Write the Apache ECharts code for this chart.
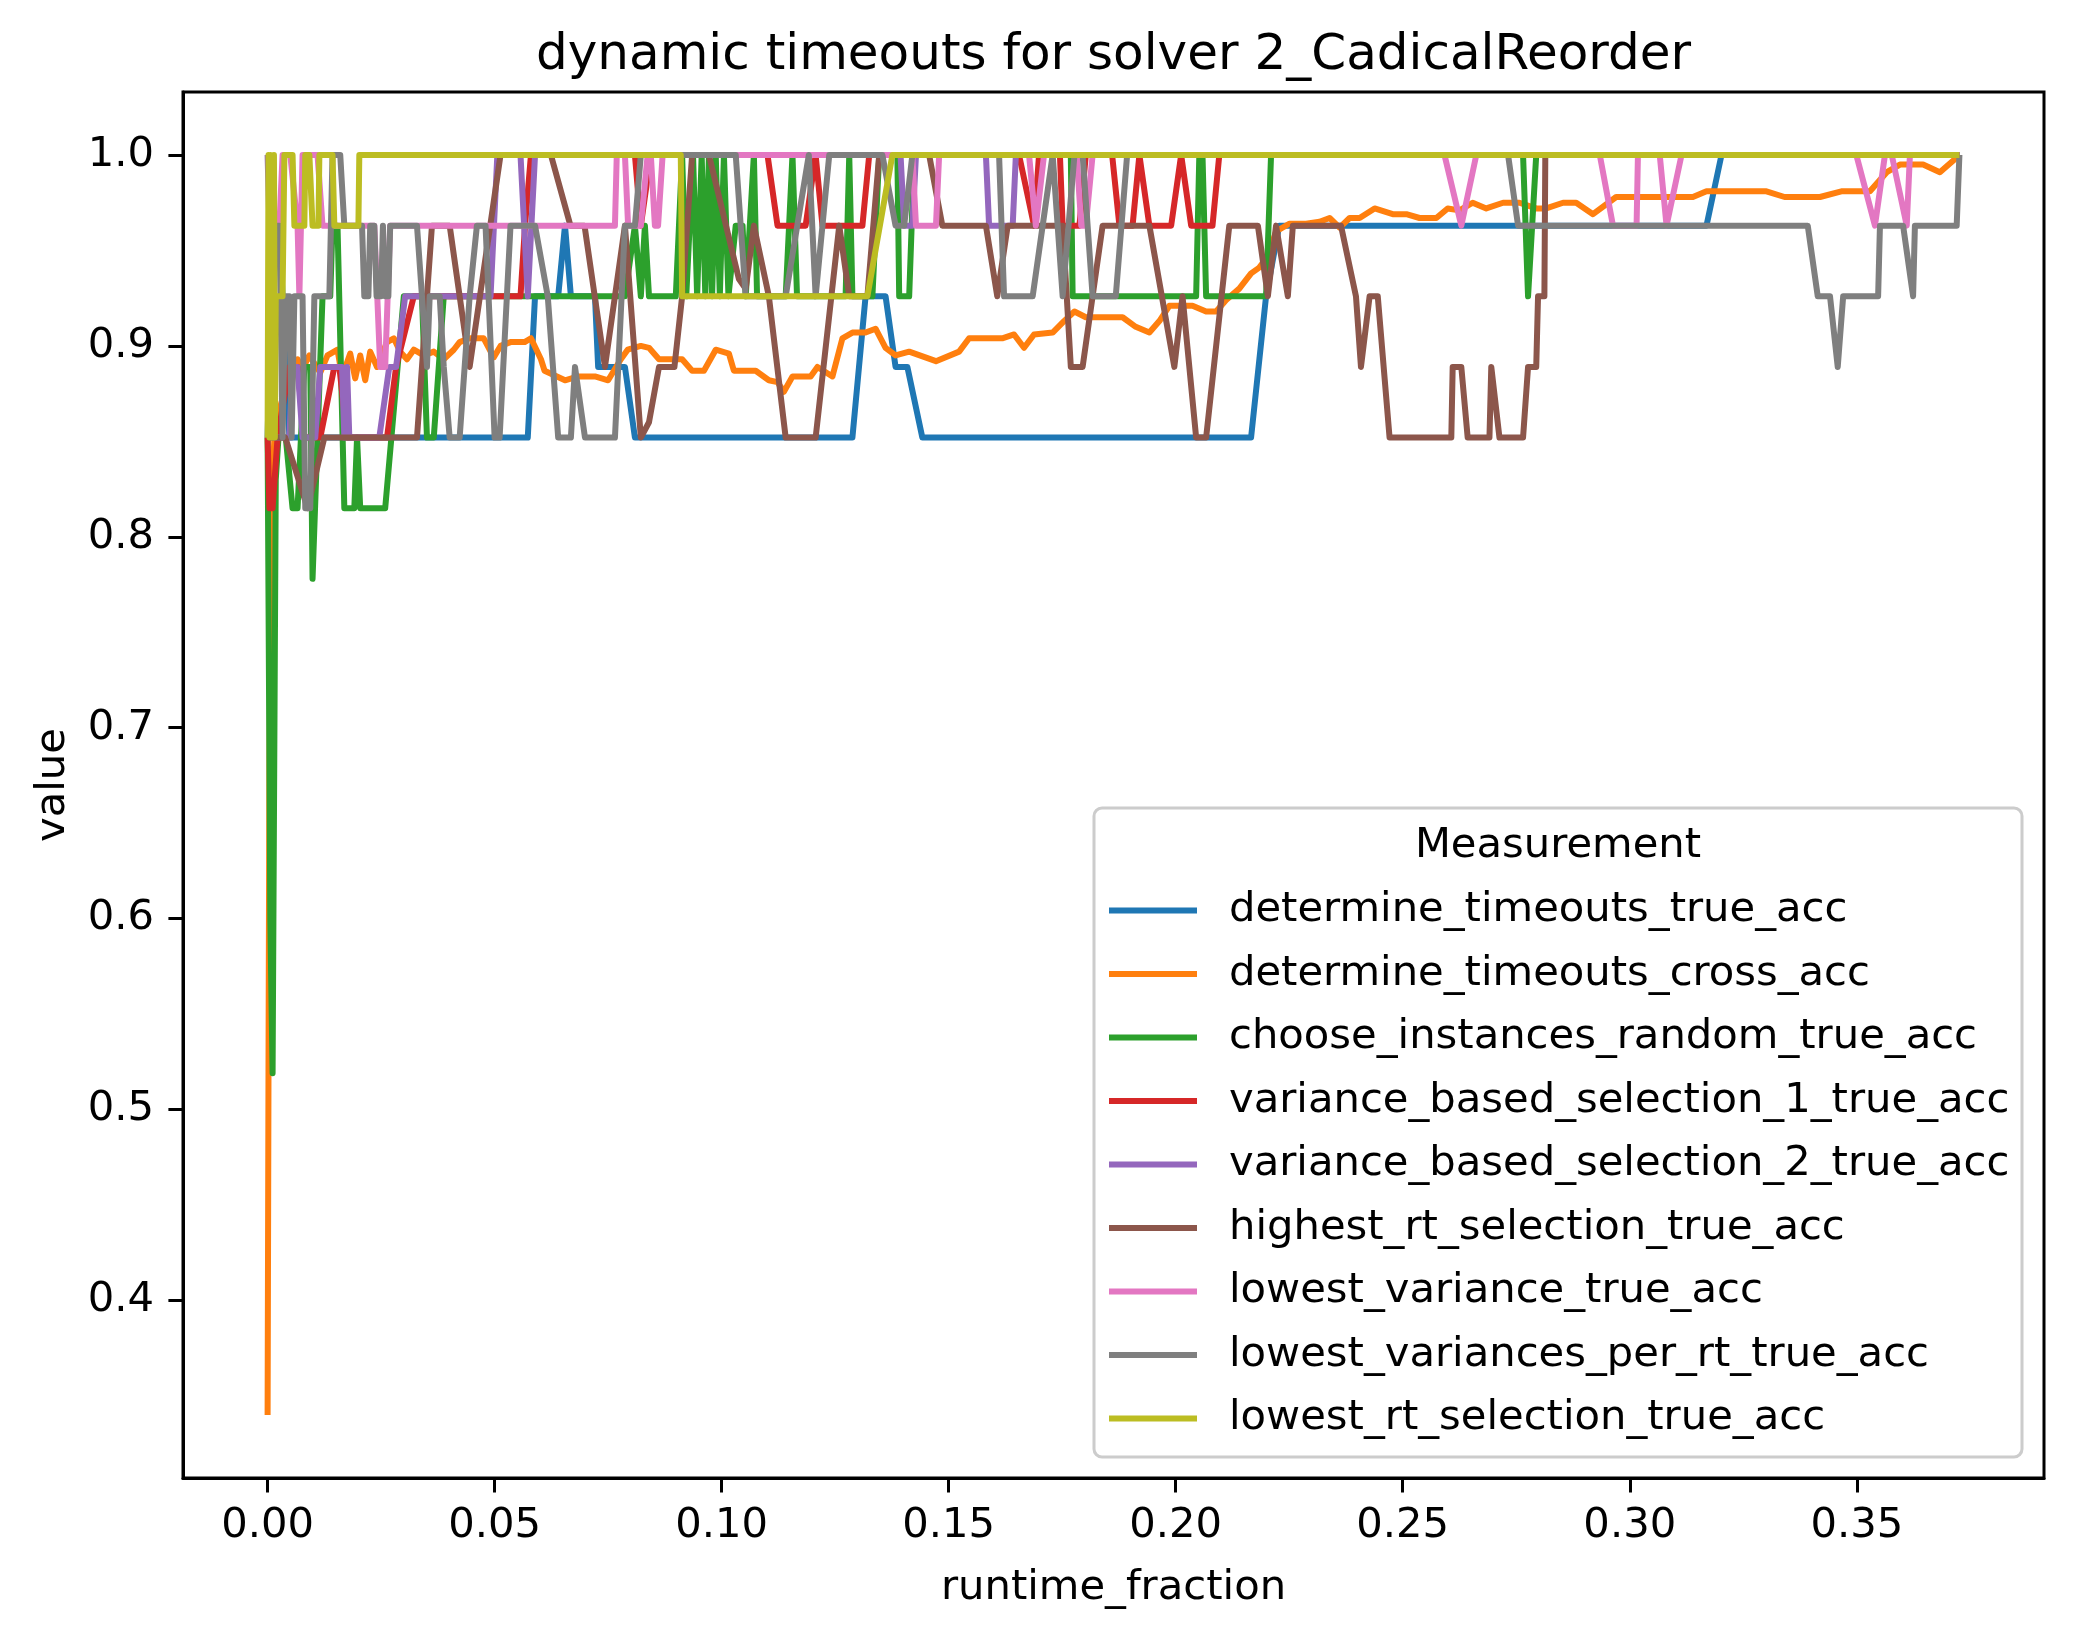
<!DOCTYPE html>
<html><head><meta charset="utf-8">
<script src="https://cdn.jsdelivr.net/npm/echarts@6/dist/echarts.min.js"></script>
<style>html,body{margin:0;padding:0;background:#fff}#c{width:2074px;height:1639px}</style>
</head><body><div id="c"></div>
<script>
const chartTitle = 'dynamic timeouts for solver 2_CadicalReorder';
const xName = 'runtime_fraction';
const yName = 'value';
const legendTitle = 'Measurement';
const runtimeTicks = [0, 0.05, 0.1, 0.15, 0.2, 0.25, 0.3, 0.35];
const valueTicks = [0.4, 0.5, 0.6, 0.7, 0.8, 0.9, 1.0];
const seriesNames = ['determine_timeouts_true_acc','determine_timeouts_cross_acc','choose_instances_random_true_acc','variance_based_selection_1_true_acc','variance_based_selection_2_true_acc','highest_rt_selection_true_acc','lowest_variance_true_acc','lowest_variances_per_rt_true_acc','lowest_rt_selection_true_acc'];
const colors = ['#1f77b4','#ff7f0e','#2ca02c','#d62728','#9467bd','#8c564b','#e377c2','#7f7f7f','#bcbd22'];

const determine_timeouts_true_acc = [[0,0.852],[0.0011,0.963],[0.0026,0.963],[0.0033,0.926],[0.0048,0.852],[0.0573,0.852],[0.0589,0.926],[0.0640,0.926],[0.0655,0.963],[0.0668,0.926],[0.0721,0.926],[0.0728,0.889],[0.0787,0.889],[0.0809,0.852],[0.1288,0.852],[0.1317,0.926],[0.1361,0.926],[0.1383,0.889],[0.1409,0.889],[0.1442,0.852],[0.2166,0.852],[0.2199,0.926],[0.2228,0.963],[0.3169,0.963],[0.3202,1.0],[0.3726,1.0]];

const determine_timeouts_cross_acc = [[0,0.34],[0.0002,0.52],[0.0004,0.68],[0.0008,0.815],[0.0015,0.852],[0.003,0.87],[0.005,0.885],[0.0066,0.893],[0.0077,0.888],[0.0092,0.895],[0.0116,0.886],[0.0132,0.895],[0.0154,0.898],[0.0164,0.884],[0.0182,0.896],[0.0193,0.883],[0.0204,0.895],[0.0215,0.882],[0.0226,0.897],[0.0241,0.889],[0.0263,0.902],[0.0278,0.904],[0.0292,0.897],[0.0307,0.893],[0.0322,0.898],[0.0344,0.895],[0.0366,0.897],[0.0388,0.893],[0.0410,0.898],[0.0423,0.902],[0.0445,0.904],[0.0476,0.904],[0.0498,0.894],[0.0513,0.900],[0.0535,0.902],[0.0566,0.902],[0.0580,0.904],[0.0602,0.893],[0.0610,0.887],[0.0655,0.882],[0.0684,0.884],[0.0721,0.884],[0.0750,0.882],[0.0778,0.893],[0.0793,0.898],[0.0822,0.900],[0.0840,0.899],[0.0862,0.893],[0.0913,0.893],[0.0935,0.887],[0.0961,0.887],[0.0987,0.898],[0.1016,0.896],[0.1027,0.887],[0.1075,0.887],[0.1104,0.882],[0.1123,0.881],[0.1137,0.876],[0.1156,0.884],[0.1196,0.884],[0.1211,0.889],[0.1244,0.884],[0.1266,0.904],[0.1288,0.907],[0.1317,0.907],[0.1339,0.909],[0.1361,0.899],[0.1383,0.895],[0.1413,0.897],[0.1472,0.892],[0.1523,0.897],[0.1545,0.904],[0.1618,0.904],[0.1644,0.906],[0.1666,0.899],[0.1688,0.906],[0.1729,0.907],[0.1754,0.913],[0.1777,0.918],[0.1802,0.915],[0.1883,0.915],[0.1912,0.910],[0.1942,0.907],[0.1964,0.913],[0.1986,0.921],[0.2037,0.921],[0.2067,0.918],[0.2089,0.918],[0.2111,0.924],[0.2140,0.930],[0.2166,0.938],[0.2184,0.941],[0.2203,0.947],[0.2221,0.960],[0.2250,0.964],[0.2287,0.964],[0.2317,0.965],[0.2339,0.967],[0.2361,0.962],[0.2383,0.967],[0.2405,0.967],[0.2438,0.972],[0.2478,0.969],[0.2508,0.969],[0.2537,0.967],[0.2574,0.967],[0.2599,0.972],[0.2625,0.971],[0.2654,0.975],[0.2684,0.972],[0.2721,0.975],[0.2757,0.975],[0.2794,0.972],[0.2816,0.972],[0.2853,0.975],[0.2882,0.975],[0.2919,0.969],[0.2970,0.978],[0.3139,0.978],[0.3169,0.981],[0.3301,0.981],[0.3341,0.978],[0.3419,0.978],[0.3466,0.981],[0.3529,0.981],[0.3566,0.991],[0.3595,0.995],[0.3646,0.995],[0.3683,0.991],[0.3712,0.997],[0.3726,1.0]];

const choose_instances_random_true_acc = [[0,0.852],[0.0006,0.6],[0.0011,0.519],[0.0018,0.83],[0.0024,0.852],[0.0040,0.852],[0.0055,0.815],[0.0066,0.815],[0.0081,0.889],[0.0094,0.889],[0.0099,0.778],[0.0110,0.852],[0.0121,0.926],[0.0138,0.926],[0.0143,0.963],[0.0154,0.963],[0.0169,0.815],[0.0191,0.815],[0.0197,0.852],[0.0204,0.815],[0.0259,0.815],[0.0300,0.926],[0.0340,0.926],[0.0351,0.852],[0.0366,0.852],[0.0388,0.926],[0.0787,0.926],[0.0809,0.963],[0.0822,0.926],[0.0831,0.963],[0.0840,0.926],[0.0899,0.926],[0.0913,1.0],[0.0922,0.926],[0.0937,1.0],[0.0946,0.926],[0.0956,1.0],[0.0964,0.926],[0.0972,1.0],[0.0979,0.926],[0.0987,1.0],[0.0996,0.926],[0.1005,1.0],[0.1015,0.926],[0.1031,0.963],[0.1046,0.963],[0.1053,0.926],[0.1071,1.0],[0.1078,0.926],[0.1141,0.926],[0.1156,1.0],[0.1166,0.926],[0.1273,0.926],[0.1281,1.0],[0.1288,0.926],[0.1332,0.926],[0.1347,1.0],[0.1387,1.0],[0.1391,0.926],[0.1413,0.926],[0.1424,1.0],[0.1769,1.0],[0.1773,0.926],[0.2045,0.926],[0.2052,1.0],[0.2059,1.0],[0.2067,0.926],[0.2199,0.926],[0.2210,1.0],[0.2765,1.0],[0.2776,0.926],[0.2794,1.0],[0.3726,1.0]];

const variance_based_selection_1_true_acc = [[0,0.852],[0.0004,0.815],[0.0011,0.815],[0.0022,0.852],[0.0048,0.889],[0.0066,0.889],[0.0081,0.852],[0.0116,0.852],[0.0147,0.889],[0.0158,0.889],[0.0175,0.852],[0.0263,0.852],[0.0283,0.889],[0.0322,0.926],[0.0557,0.926],[0.0567,0.963],[0.0580,1.0],[0.0809,1.0],[0.0822,0.963],[0.0844,1.0],[0.1101,1.0],[0.1123,0.963],[0.1185,0.963],[0.1207,1.0],[0.1222,0.963],[0.1310,0.963],[0.1325,1.0],[0.1655,1.0],[0.1688,0.963],[0.1699,1.0],[0.1745,1.0],[0.1751,0.963],[0.1788,0.963],[0.1802,1.0],[0.1860,1.0],[0.1876,0.963],[0.1905,0.963],[0.1920,1.0],[0.1942,0.963],[0.1990,0.963],[0.2012,1.0],[0.2034,0.963],[0.2081,0.963],[0.2096,1.0],[0.3726,1.0]];

const variance_based_selection_2_true_acc = [[0,1.0],[0.0004,0.963],[0.0011,0.852],[0.0048,0.852],[0.0055,0.889],[0.0066,0.889],[0.0077,0.852],[0.0105,0.852],[0.0116,0.889],[0.0164,0.889],[0.0169,0.852],[0.0175,0.889],[0.0180,0.852],[0.0246,0.852],[0.0268,0.889],[0.0283,0.889],[0.0303,0.926],[0.0491,0.926],[0.0506,1.0],[0.0557,1.0],[0.0573,0.926],[0.0589,1.0],[0.1394,1.0],[0.1402,0.963],[0.1420,0.963],[0.1428,1.0],[0.1582,1.0],[0.1589,0.963],[0.1641,0.963],[0.1648,1.0],[0.3726,1.0]];

const highest_rt_selection_true_acc = [[0,0.852],[0.0039,0.852],[0.0088,0.815],[0.0125,0.852],[0.0329,0.852],[0.0362,0.963],[0.0401,0.963],[0.0445,0.889],[0.0513,1.0],[0.0624,1.0],[0.0667,0.963],[0.0698,0.963],[0.0743,0.889],[0.0787,0.963],[0.0822,0.852],[0.0840,0.860],[0.0862,0.889],[0.0896,0.889],[0.0913,0.926],[0.0935,1.0],[0.0972,1.0],[0.1038,0.935],[0.1053,0.930],[0.1071,0.963],[0.1104,0.926],[0.1141,0.852],[0.1207,0.852],[0.1259,0.963],[0.1281,0.926],[0.1321,0.926],[0.1347,1.0],[0.1457,1.0],[0.1486,0.963],[0.1582,0.963],[0.1607,0.926],[0.1630,0.963],[0.1751,0.963],[0.1769,0.889],[0.1795,0.889],[0.1839,0.963],[0.1942,0.963],[0.1997,0.889],[0.2015,0.926],[0.2045,0.852],[0.2067,0.852],[0.2118,0.963],[0.2181,0.963],[0.2203,0.926],[0.2221,0.963],[0.2247,0.926],[0.2258,0.963],[0.2364,0.963],[0.2397,0.926],[0.2408,0.889],[0.2427,0.926],[0.2445,0.926],[0.2471,0.852],[0.2607,0.852],[0.2610,0.889],[0.2629,0.889],[0.2643,0.852],[0.2691,0.852],[0.2695,0.889],[0.2713,0.852],[0.2765,0.852],[0.2776,0.889],[0.2794,0.889],[0.2798,0.926],[0.2812,0.926],[0.2814,1.0],[0.3726,1.0]];

const lowest_variance_true_acc = [[0,0.963],[0.0026,0.963],[0.0033,1.0],[0.0050,1.0],[0.0066,0.963],[0.0070,0.926],[0.0077,1.0],[0.0110,1.0],[0.0121,0.963],[0.0235,0.963],[0.0248,0.889],[0.0259,0.889],[0.0270,0.963],[0.0765,0.963],[0.0769,1.0],[0.0787,1.0],[0.0794,0.963],[0.0822,0.963],[0.0837,1.0],[0.0844,1.0],[0.0853,0.963],[0.0860,0.963],[0.0870,1.0],[0.1420,1.0],[0.1428,0.963],[0.1472,0.963],[0.1479,1.0],[0.1677,1.0],[0.1692,0.963],[0.1710,1.0],[0.1782,1.0],[0.1792,0.963],[0.1802,0.963],[0.1817,1.0],[0.2592,1.0],[0.2629,0.963],[0.2662,1.0],[0.2934,1.0],[0.2963,0.963],[0.3015,0.963],[0.3018,1.0],[0.3066,1.0],[0.3081,0.963],[0.3114,1.0],[0.3499,1.0],[0.3540,0.963],[0.3562,1.0],[0.3577,1.0],[0.3610,0.963],[0.3617,1.0],[0.3726,1.0]];

const lowest_variances_per_rt_true_acc = [[0,0.963],[0.0026,0.963],[0.0033,0.852],[0.0039,0.926],[0.0048,0.926],[0.0053,0.852],[0.0059,0.926],[0.0077,0.926],[0.0083,0.815],[0.0094,0.815],[0.0103,0.926],[0.0136,0.926],[0.0143,1.0],[0.0160,1.0],[0.0169,0.963],[0.0208,0.963],[0.0213,0.926],[0.0222,0.926],[0.0226,0.963],[0.0235,0.963],[0.0240,0.926],[0.0250,0.926],[0.0254,0.963],[0.0259,0.926],[0.0266,0.926],[0.0270,0.963],[0.0329,0.963],[0.0351,0.889],[0.0357,0.926],[0.0379,0.926],[0.0388,0.889],[0.0401,0.852],[0.0423,0.852],[0.0445,0.926],[0.0461,0.963],[0.0480,0.963],[0.0500,0.852],[0.0511,0.852],[0.0535,0.963],[0.0589,0.963],[0.0617,0.926],[0.0640,0.852],[0.0668,0.852],[0.0677,0.889],[0.0699,0.852],[0.0765,0.852],[0.0787,0.963],[0.0809,0.963],[0.0822,1.0],[0.1031,1.0],[0.1053,0.926],[0.1141,0.926],[0.1192,1.0],[0.1207,0.926],[0.1237,1.0],[0.1354,1.0],[0.1383,0.963],[0.1402,0.963],[0.1420,1.0],[0.1611,1.0],[0.1622,0.926],[0.1685,0.926],[0.1729,1.0],[0.1751,0.926],[0.1777,1.0],[0.1795,1.0],[0.1817,0.926],[0.1868,0.926],[0.1893,1.0],[0.2732,1.0],[0.2754,0.963],[0.3392,0.963],[0.3414,0.926],[0.3441,0.926],[0.3458,0.889],[0.3470,0.926],[0.3547,0.926],[0.3551,0.963],[0.3602,0.963],[0.3624,0.926],[0.3628,0.963],[0.3720,0.963],[0.3726,1.0]];

const lowest_rt_selection_true_acc = [[0,0.852],[0.0002,1.0],[0.0004,0.852],[0.0006,1.0],[0.0008,0.852],[0.0010,0.963],[0.0012,0.852],[0.0014,1.0],[0.0016,0.852],[0.0018,0.926],[0.0033,0.926],[0.0037,1.0],[0.0055,1.0],[0.0059,0.963],[0.0081,0.963],[0.0083,1.0],[0.0092,1.0],[0.0099,0.963],[0.0112,0.963],[0.0114,1.0],[0.0143,1.0],[0.0147,0.963],[0.0200,0.963],[0.0202,1.0],[0.0910,1.0],[0.0913,0.926],[0.1321,0.926],[0.1376,1.0],[0.3726,1.0]];

const seriesData = [determine_timeouts_true_acc, determine_timeouts_cross_acc, choose_instances_random_true_acc, variance_based_selection_1_true_acc, variance_based_selection_2_true_acc, highest_rt_selection_true_acc, lowest_variance_true_acc, lowest_variances_per_rt_true_acc, lowest_rt_selection_true_acc];

const FONT = 'DejaVu Sans';
const FS = 41.7;
const chart = echarts.init(document.getElementById('c'), null, {renderer: 'canvas'});
chart.setOption({
  animation: false,
  backgroundColor: '#ffffff',
  grid: {left: 183, right: 30, top: 92, bottom: 161, containLabel: false, outerBoundsMode: 'none',
         show: true, borderColor: '#000', borderWidth: 3, backgroundColor: 'transparent'},
  xAxis: {
    type: 'value', min: -0.01863, max: 0.39123,
    axisLine: {show: true, onZero: false, lineStyle: {color: '#000', width: 3}},
    axisTick: {show: true, inside: false, length: 14.6, customValues: runtimeTicks, lineStyle: {color: '#000', width: 3}},
    axisLabel: {show: true, customValues: runtimeTicks, margin: 27, color: '#000', fontFamily: FONT, fontSize: FS,
                formatter: v => v.toFixed(2)},
    splitLine: {show: false}
  },
  yAxis: {
    type: 'value', min: 0.307, max: 1.033,
    axisLine: {show: true, onZero: false, lineStyle: {color: '#000', width: 3}},
    axisTick: {show: true, inside: false, length: 14.6, customValues: valueTicks, lineStyle: {color: '#000', width: 3}},
    axisLabel: {show: true, customValues: valueTicks, margin: 29, color: '#000', fontFamily: FONT, fontSize: FS,
                formatter: v => v.toFixed(1)},
    splitLine: {show: false}
  },
  legend: {
    show: true, orient: 'vertical', left: 1109, top: 885.5, padding: 0,
    icon: 'rect', itemWidth: 88, itemHeight: 6, itemGap: 13.5,
    selectedMode: false,
    textStyle: {fontFamily: FONT, fontSize: FS, color: '#000', lineHeight: 50, padding: [0, 0, 0, 27]},
    data: seriesNames
  },
  graphic: [
    {type: 'rect', z: 3, shape: {x: 1094, y: 808, width: 928, height: 649, r: 8},
     style: {fill: 'rgba(255,255,255,0.8)', stroke: '#cccccc', lineWidth: 3}},
    {type: 'text', z: 5, x: 1558, y: 846,
     style: {text: legendTitle, fontFamily: FONT, fontSize: FS, fill: '#000', align: 'center', verticalAlign: 'middle'}},
    {type: 'text', z: 5, x: 1113.5, y: 56,
     style: {text: chartTitle, fontFamily: FONT, fontSize: 50, fill: '#000', align: 'center', verticalAlign: 'middle'}},
    {type: 'text', z: 5, x: 1113.5, y: 1588,
     style: {text: xName, fontFamily: FONT, fontSize: FS, fill: '#000', align: 'center', verticalAlign: 'middle'}},
    {type: 'text', z: 5, x: 53, y: 785, rotation: Math.PI / 2,
     style: {text: yName, fontFamily: FONT, fontSize: FS, fill: '#000', align: 'center', verticalAlign: 'middle'}}
  ],
  series: seriesNames.map((name, i) => ({
    name: name, type: 'line', data: seriesData[i],
    showSymbol: false, symbol: 'none', silent: true,
    color: colors[i],
    lineStyle: {color: colors[i], width: 6, join: 'round', cap: 'butt'},
    emphasis: {disabled: true}
  }))
});
</script></body></html>
